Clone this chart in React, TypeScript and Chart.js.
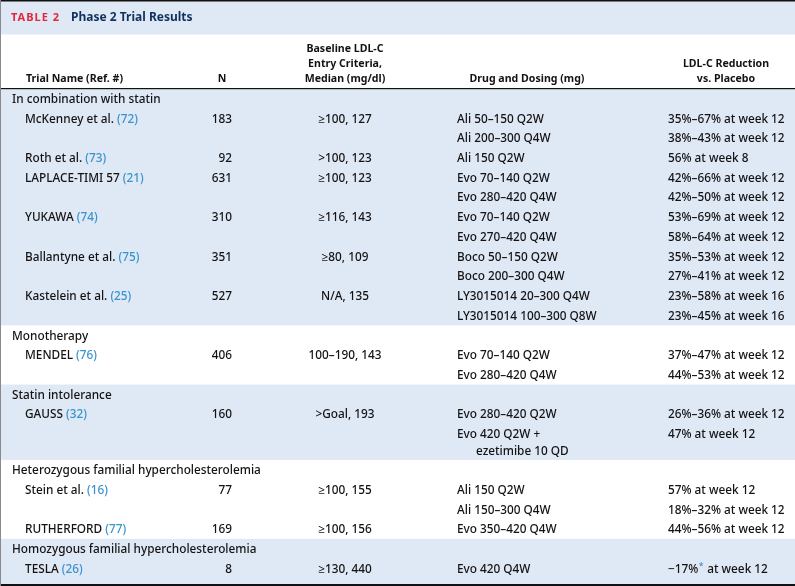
import { useEffect, useRef } from "react";
import { Chart, registerables } from "chart.js";

Chart.register(...registerables);

// ---------- data ----------
const TABLE_LABEL = "TABLE 2";
const TABLE_TITLE = "Phase 2 Trial Results";

const colHeaders: string[][] = [
  ["Trial Name (Ref. #)"],
  ["N"],
  ["Baseline LDL-C", "Entry Criteria,", "Median (mg/dl)"],
  ["Drug and Dosing (mg)"],
  ["LDL-C Reduction", "vs. Placebo"],
];

const sections = [
  "In combination with statin",
  "Monotherapy",
  "Statin intolerance",
  "Heterozygous familial hypercholesterolemia",
  "Homozygous familial hypercholesterolemia",
];

const trialNames = [
  "McKenney et al.",
  "Roth et al.",
  "LAPLACE-TIMI 57",
  "YUKAWA",
  "Ballantyne et al.",
  "Kastelein et al.",
  "MENDEL",
  "GAUSS",
  "Stein et al.",
  "RUTHERFORD",
  "TESLA",
];
const trialRefs = ["72", "73", "21", "74", "75", "25", "76", "32", "16", "77", "26"];
const trialSection = [0, 0, 0, 0, 0, 0, 1, 2, 3, 3, 4];
const trialN = [183, 92, 631, 310, 351, 527, 406, 160, 77, 169, 8];
const trialBaseline = [
  "\u2265100, 127",
  ">100, 123",
  "\u2265100, 123",
  "\u2265116, 143",
  "\u226580, 109",
  "N/A, 135",
  "100\u2013190, 143",
  ">Goal, 193",
  "\u2265100, 155",
  "\u2265100, 156",
  "\u2265130, 440",
];
const armDosing: string[][] = [
  ["Ali 50\u2013150 Q2W", "Ali 200\u2013300 Q4W"],
  ["Ali 150 Q2W"],
  ["Evo 70\u2013140 Q2W", "Evo 280\u2013420 Q4W"],
  ["Evo 70\u2013140 Q2W", "Evo 270\u2013420 Q4W"],
  ["Boco 50\u2013150 Q2W", "Boco 200\u2013300 Q4W"],
  ["LY3015014 20\u2013300 Q4W", "LY3015014 100\u2013300 Q8W"],
  ["Evo 70\u2013140 Q2W", "Evo 280\u2013420 Q4W"],
  ["Evo 280\u2013420 Q2W", "Evo 420 Q2W +\nezetimibe 10 QD"],
  ["Ali 150 Q2W", "Ali 150\u2013300 Q4W"],
  ["Evo 350\u2013420 Q4W"],
  ["Evo 420 Q4W"],
];
const armReduction: string[][] = [
  ["35%\u201367% at week 12", "38%\u201343% at week 12"],
  ["56% at week 8"],
  ["42%\u201366% at week 12", "42%\u201350% at week 12"],
  ["53%\u201369% at week 12", "58%\u201364% at week 12"],
  ["35%\u201353% at week 12", "27%\u201341% at week 12"],
  ["23%\u201358% at week 16", "23%\u201345% at week 16"],
  ["37%\u201347% at week 12", "44%\u201353% at week 12"],
  ["26%\u201336% at week 12", "47% at week 12"],
  ["57% at week 12", "18%\u201332% at week 12"],
  ["44%\u201356% at week 12"],
  ["\u221217%* at week 12"],
];

// ---------- layout / style ----------
const FONT = "'Noto Sans', 'Open Sans', sans-serif";
const BODY_WEIGHT = 500;
const BODY_SIZE = 11.8;
const HEAD_SIZE = 10.6;
const INK = "#141213";
const REF_BLUE = "#3a93cf";
const SHADE = "#dfe9f5";
const TITLE_RED = "#e2283b";
const TITLE_NAVY = "#10305e";

// y scale in "row units"
const Y_MIN = -5.04;
const Y_MAX = 24.66;
const TITLE_ROW = -4.16;
const TITLE_BAR_BOTTOM = -3.29;
const HEADER_LAST_LINE = -1.06;
const HEADER_LINE_GAP = 0.76;
const HEADER_RULE = -0.56;
const BAND_OFFSET = 0.55;
const WRAP_OFFSET = 0.87;
const WRAP_ADVANCE = 0.82;

// x scale in table units
const X_MAX = 795;
const X_SECTION = 12;
const X_TRIAL = 25;
const X_N_RIGHT = 232;
const X_N_HEAD = 222;
const X_BASE = 345;
const X_DRUG = 457;
const X_DRUG_CONT = 476;
const X_DRUG_HEAD = 527;
const X_RED = 668;
const X_RED_HEAD = 726;
const X_TITLE_LABEL = 11;
const X_TITLE = 71;

type Item =
  | { kind: "section"; row: number; text: string }
  | { kind: "trial"; row: number; t: number }
  | { kind: "arm"; row: number; drug: string; red: string }
  | { kind: "cont"; row: number; drug: string };

function buildLayout() {
  const items: Item[] = [];
  const bands: { start: number; shaded: boolean }[] = [];
  let r = 0;
  sections.forEach((s, si) => {
    bands.push({ start: r - BAND_OFFSET, shaded: si % 2 === 0 });
    items.push({ kind: "section", row: r, text: s });
    r += 1;
    trialNames.forEach((_, ti) => {
      if (trialSection[ti] !== si) return;
      items.push({ kind: "trial", row: r, t: ti });
      armDosing[ti].forEach((d, ai) => {
        const parts = d.split("\n");
        items.push({ kind: "arm", row: r, drug: parts[0], red: armReduction[ti][ai] });
        if (parts[1]) {
          items.push({ kind: "cont", row: r + WRAP_OFFSET, drug: parts[1] });
          r += WRAP_ADVANCE;
        }
        r += 1;
      });
    });
  });
  return { items, bands };
}

const tablePlugin = {
  id: "tableDraw",
  afterDraw(chart: any) {
    const ctx: CanvasRenderingContext2D = chart.ctx;
    const xs = chart.scales.x;
    const ys = chart.scales.y;
    const X = (v: number) => xs.getPixelForValue(v);
    const Y = (v: number) => ys.getPixelForValue(v);
    const { items, bands } = buildLayout();
    const W = X(X_MAX);
    const bottom = Y(Y_MAX);
    const bodyFont = `${BODY_WEIGHT} ${BODY_SIZE}px ${FONT}`;

    ctx.save();
    ctx.fillStyle = "#ffffff";
    ctx.fillRect(0, 0, W, bottom);

    // title bar
    ctx.fillStyle = SHADE;
    ctx.fillRect(0, Y(Y_MIN), W, Y(TITLE_BAR_BOTTOM) - Y(Y_MIN));

    // section bands
    bands.forEach((b, i) => {
      const end = i + 1 < bands.length ? bands[i + 1].start : Y_MAX;
      if (!b.shaded) return;
      ctx.fillStyle = SHADE;
      ctx.fillRect(0, Y(b.start), W, Y(end) - Y(b.start));
    });

    // borders
    ctx.fillStyle = "#111";
    ctx.fillRect(0, Y(Y_MIN), W, 1.5);
    ctx.fillRect(0, Math.round(Y(HEADER_RULE)), W, 1.2);
    ctx.fillRect(0, bottom - 2, W, 2);
    ctx.fillStyle = "#8a8a8a";
    ctx.fillRect(0, 0, 1, bottom);

    ctx.textBaseline = "middle";

    // title
    ctx.font = `bold 11px ${FONT}`;
    (ctx as any).letterSpacing = "1px";
    ctx.fillStyle = TITLE_RED;
    ctx.textAlign = "left";
    ctx.fillText(TABLE_LABEL, X(X_TITLE_LABEL), Y(TITLE_ROW));
    (ctx as any).letterSpacing = "0px";
    ctx.font = `bold 12px ${FONT}`;
    ctx.fillStyle = TITLE_NAVY;
    ctx.fillText(TABLE_TITLE, X(X_TITLE), Y(TITLE_ROW));

    // column headers
    ctx.font = `bold ${HEAD_SIZE}px ${FONT}`;
    ctx.fillStyle = INK;
    const headX = [X_TRIAL + 1, X_N_HEAD, X_BASE, X_DRUG_HEAD, X_RED_HEAD];
    colHeaders.forEach((lines, ci) => {
      ctx.textAlign = ci === 0 ? "left" : "center";
      lines.forEach((ln, li) => {
        const row = HEADER_LAST_LINE - (lines.length - 1 - li) * HEADER_LINE_GAP;
        ctx.fillText(ln, X(headX[ci]), Y(row));
      });
    });

    // body
    ctx.font = bodyFont;
    items.forEach((it) => {
      const y = Y(it.row);
      ctx.fillStyle = INK;
      if (it.kind === "section") {
        ctx.textAlign = "left";
        ctx.fillText(it.text, X(X_SECTION), y);
      } else if (it.kind === "trial") {
        const t = it.t;
        ctx.textAlign = "left";
        const name = trialNames[t] + " ";
        ctx.fillText(name, X(X_TRIAL), y);
        const w = ctx.measureText(name).width;
        ctx.fillStyle = REF_BLUE;
        ctx.fillText(`(${trialRefs[t]})`, X(X_TRIAL) + w, y);
        ctx.fillStyle = INK;
        ctx.textAlign = "right";
        ctx.fillText(String(trialN[t]), X(X_N_RIGHT), y);
        ctx.textAlign = "center";
        ctx.fillText(trialBaseline[t], X(X_BASE), y);
      } else if (it.kind === "arm") {
        ctx.textAlign = "left";
        ctx.fillText(it.drug, X(X_DRUG), y);
        const star = it.red.indexOf("*");
        if (star < 0) {
          ctx.fillText(it.red, X(X_RED), y);
        } else {
          const a = it.red.slice(0, star);
          const b = it.red.slice(star + 1);
          let x = X(X_RED);
          ctx.fillText(a, x, y);
          x += ctx.measureText(a).width;
          ctx.fillStyle = REF_BLUE;
          ctx.font = `${BODY_WEIGHT} ${BODY_SIZE * 0.75}px ${FONT}`;
          ctx.fillText("*", x + 0.5, y - 3);
          x += ctx.measureText("*").width + 1;
          ctx.font = bodyFont;
          ctx.fillStyle = INK;
          ctx.fillText(b, x, y);
        }
      } else if (it.kind === "cont") {
        ctx.textAlign = "left";
        ctx.fillText(it.drug, X(X_DRUG_CONT), y);
      }
    });
    ctx.restore();
  },
};

export default function App() {
  const ref = useRef<HTMLCanvasElement | null>(null);
  useEffect(() => {
    document.body.style.margin = "0";
    const canvas = ref.current;
    if (!canvas) return;
    const chart = new Chart(canvas, {
      type: "scatter",
      data: { datasets: [{ data: [], pointRadius: 0 }] },
      options: {
        responsive: false,
        animation: false,
        devicePixelRatio: 1,
        events: [],
        layout: { padding: 0 },
        plugins: {
          legend: { display: false },
          tooltip: { enabled: false },
          title: { display: false },
        },
        scales: {
          x: { type: "linear", min: 0, max: X_MAX, display: false },
          y: { type: "linear", min: Y_MIN, max: Y_MAX, reverse: true, display: false },
        },
      },
      plugins: [tablePlugin],
    });
    return () => chart.destroy();
  }, []);
  return (
    <div style={{ position: "fixed", left: 0, top: 0, width: 795, height: 586, background: "#fff" }}>
      <canvas ref={ref} width={795} height={586} style={{ display: "block" }} />
    </div>
  );
}
